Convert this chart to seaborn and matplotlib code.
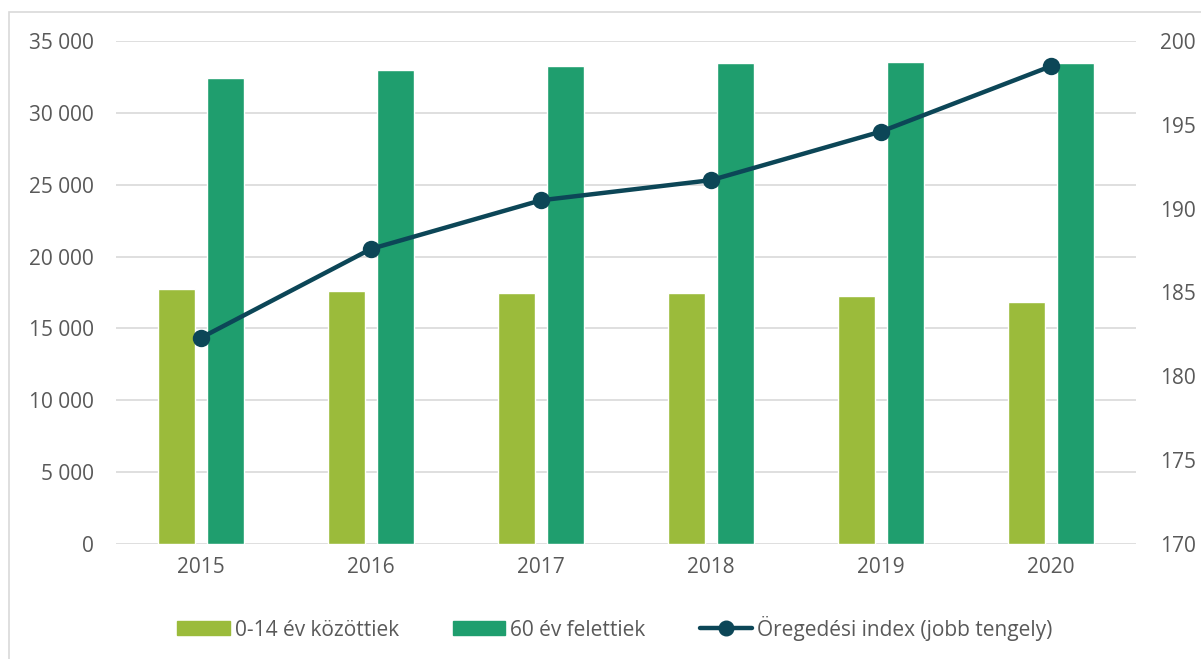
import numpy as np
import pandas as pd
import matplotlib
matplotlib.use("Agg")
import matplotlib.pyplot as plt
from matplotlib.patches import Rectangle
from matplotlib.lines import Line2D
import seaborn as sns

# adatok
evek = ["2015", "2016", "2017", "2018", "2019", "2020"]
fiatalok = [17750, 17600, 17450, 17450, 17250, 16850]
idosek = [32400, 33000, 33250, 33450, 33550, 33450]
index = [182.3, 187.6, 190.5, 191.7, 194.6, 198.5]

c_fiatal = "#9BBB3B"
c_idos = "#1F9E6E"
c_index = "#0C4657"
c_text = "#595959"

sns.set_style("white")
plt.rcParams["font.family"] = ["Open Sans", "DejaVu Sans"]

df = pd.DataFrame({
    "ev": evek * 2,
    "ertek": fiatalok + idosek,
    "csoport": ["0-14 év közöttiek"] * 6 + ["60 év felettiek"] * 6,
})

fig = plt.figure(figsize=(12.01, 6.59), dpi=100)
ax = fig.add_axes([0.0966, 0.1745, 0.8494, 0.7633])

sns.barplot(data=df, x="ev", y="ertek", hue="csoport",
            palette=[c_fiatal, c_idos], saturation=1, width=0.57, gap=0.24,
            ax=ax, legend=False, zorder=2)

ax.set_ylim(0, 35000)
ax.set_yticks(np.arange(0, 35001, 5000))
ax.set_yticklabels([f"{v:,}".replace(",", " ") for v in range(0, 35001, 5000)])
ax.yaxis.grid(True, color="#D9D9D9", linewidth=1.2, zorder=0)
ax.set_axisbelow(True)
ax.set_xlabel("")
ax.set_ylabel("")
for s in ax.spines.values():
    s.set_visible(False)
ax.tick_params(axis="both", length=0, labelsize=15, colors=c_text, pad=9)
ax.tick_params(axis="y", pad=16)

ax2 = ax.twinx()
sns.pointplot(x=evek, y=index, color=c_index, markers="o",
              linestyles="-", ax=ax2, zorder=5)
for ln in ax2.lines:
    ln.set_linewidth(3.2)
    ln.set_markersize(10.5)
ax2.set_ylim(170, 200)
ax2.set_yticks(np.arange(170, 201, 5))
ax2.set_xlim(-0.5, 5.5)
ax.set_xlim(-0.5, 5.5)
for s in ax2.spines.values():
    s.set_visible(False)
ax2.tick_params(axis="y", length=0, labelsize=15, colors=c_text, pad=17)
ax2.grid(False)

# jelmagyarázat
handles = [
    Rectangle((0, 0), 1, 1, color=c_fiatal),
    Rectangle((0, 0), 1, 1, color=c_idos),
    Line2D([0], [0], color=c_index, lw=3.2, marker="o", markersize=10.5),
]
labels = ["0-14 év közöttiek", "60 év felettiek", "Öregedési index (jobb tengely)"]
fig.legend(handles, labels, loc="center", bbox_to_anchor=(0.512, 0.047),
           ncol=3, frameon=False, fontsize=15, labelcolor=c_text,
           handlelength=2.5, handleheight=0.65, handletextpad=0.25,
           columnspacing=2.6)

# keret
fig.patches.append(Rectangle((9 / 1201, -0.1), 1.2, 1 - 12 / 659 + 0.1,
                             transform=fig.transFigure, fill=False,
                             edgecolor="#D9D9D9", linewidth=1.2))

fig.savefig("out.png", dpi=100)
